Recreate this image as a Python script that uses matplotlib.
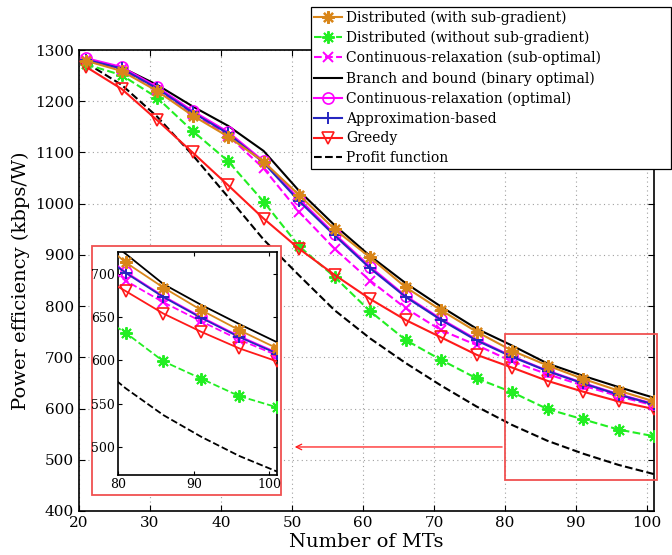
import matplotlib
matplotlib.use("Agg")
import matplotlib.pyplot as plt
from matplotlib.patches import Rectangle

plt.rcParams['font.family'] = ['DejaVu Serif']

# ---------------- data ----------------
mts = [21, 26, 31, 36, 41, 46, 51, 56, 61, 66, 71, 76, 81, 86, 91, 96, 101]

dist_subgrad = [1279, 1259, 1220, 1172, 1131, 1082, 1017, 950, 895, 837, 792, 750, 713, 684, 658, 635, 614]
dist_nosubgrad = [1272, 1251, 1207, 1142, 1083, 1004, 917, 857, 790, 734, 695, 659, 632, 599, 579, 559, 546]
cr_subopt = [1280, 1262, 1222, 1175, 1133, 1069, 984, 912, 850, 796, 753, 724, 692, 667, 645, 624, 606]
bnb = [1278, 1266, 1232, 1190, 1152, 1103, 1025, 958, 898, 845, 799, 756, 723, 688, 664, 642, 621]
cr_opt = [1284, 1267, 1228, 1181, 1140, 1083, 1009, 941, 877, 820, 775, 735, 702, 674, 650, 628, 609]
approx = [1281, 1264, 1225, 1178, 1137, 1080, 1005, 938, 874, 818, 773, 733, 701, 673, 649, 627, 608]
greedy = [1267, 1224, 1163, 1100, 1036, 971, 912, 861, 814, 773, 739, 705, 680, 654, 633, 614, 599]
profit = [1275, 1232, 1170, 1095, 1013, 930, 860, 792, 737, 689, 645, 604, 568, 537, 512, 490, 472]

labels = ["Distributed (with sub-gradient)",
          "Distributed (without sub-gradient)",
          "Continuous-relaxation (sub-optimal)",
          "Branch and bound (binary optimal)",
          "Continuous-relaxation (optimal)",
          "Approximation-based",
          "Greedy",
          "Profit function"]

xticks_main = [20, 30, 40, 50, 60, 70, 80, 90, 100]
yticks_main = [400, 500, 600, 700, 800, 900, 1000, 1100, 1200, 1300]
xticks_inset = [80, 90, 100]
yticks_inset = [500, 550, 600, 650, 700]

ORANGE = '#D9861A'
GREEN = '#22EE22'
MAGENTA = '#FF00FF'
BLUE = '#2626C0'
RED = '#FF1A1A'

ast = (8, 2, 0)
styles = [
    dict(color=ORANGE, ls='-', marker=ast, ms=9, mew=1.6, zorder=8),
    dict(color=GREEN, ls='--', marker=ast, ms=9, mew=1.4, zorder=4),
    dict(color=MAGENTA, ls='--', marker='x', ms=7, mew=1.4, zorder=5),
    dict(color='black', ls='-', marker=None, zorder=3),
    dict(color=MAGENTA, ls='-', marker='o', ms=8, mew=1.2, mfc='none', zorder=6),
    dict(color=BLUE, ls='-', marker='+', ms=9, mew=1.4, zorder=7),
    dict(color=RED, ls='-', marker='v', ms=9, mew=1.2, mfc='none', zorder=5),
    dict(color='black', ls='--', marker=None, zorder=3),
]
series = [dist_subgrad, dist_nosubgrad, cr_subopt, bnb, cr_opt, approx, greedy, profit]


def draw(ax, lw=1.5):
    handles = []
    for ys, st, lab in zip(series, styles, labels):
        h, = ax.plot(mts, ys, lw=lw, label=lab, **st)
        handles.append(h)
    return handles


fig = plt.figure(figsize=(6.72, 5.55), dpi=100)
ax = fig.add_axes([79/672, 1 - 511/555, (654-79)/672, (511-50)/555])
handles = draw(ax)
ax.set_xlim(20, 101)
ax.set_ylim(400, 1300)
ax.set_xticks(xticks_main)
ax.set_yticks(yticks_main)
ax.tick_params(direction='in', labelsize=11, length=4, top=True, right=True)
ax.grid(True, ls=(0, (1, 3)), color='#A0A0A0', lw=0.8)
for s in ax.spines.values():
    s.set_linewidth(1.2)
ax.set_xlabel("Number of MTs", fontsize=14, labelpad=2)
ax.set_ylabel("Power efficiency (kbps/W)", fontsize=14, labelpad=4)

# zoom rectangle in main axes
ax.add_patch(Rectangle((80, 460), 21.4, 285, fill=False, ec='#F05050', lw=1.3,
                       clip_on=False, zorder=10))
ax.annotate("", xy=(50, 525), xytext=(80, 525),
            arrowprops=dict(arrowstyle='->', color=RED, lw=0.9), zorder=10)

leg = fig.legend(handles=handles, labels=labels, loc='upper left',
                 bbox_to_anchor=(311/672, 1 - 172/555, 360/672, 165/555),
                 mode='expand', fontsize=10,
                 frameon=True, fancybox=False, framealpha=1, edgecolor='black',
                 handlelength=2.0, labelspacing=0.42, borderpad=0.25,
                 handletextpad=0.3, borderaxespad=0)
leg.get_frame().set_linewidth(0.9)

# red frame around inset (figure coords)
fig.patches.append(Rectangle((92/672, 1 - 495/555), (281-92)/672, (495-246)/555,
                             transform=fig.transFigure, fill=True, fc='white',
                             ec='#F05050', lw=1.3, zorder=5))

ins = fig.add_axes([118/672, 1 - 475/555, (277-118)/672, (475-252)/555])
ins.set_zorder(6)
draw(ins, lw=1.3)
ins.set_xlim(80, 101)
ins.set_ylim(468, 725)
ins.set_xticks(xticks_inset)
ins.set_yticks(yticks_inset)
ins.tick_params(direction='in', labelsize=9, length=3, top=True, right=True, pad=2)
for s in ins.spines.values():
    s.set_linewidth(1.2)

fig.savefig("out.png", dpi=100)
